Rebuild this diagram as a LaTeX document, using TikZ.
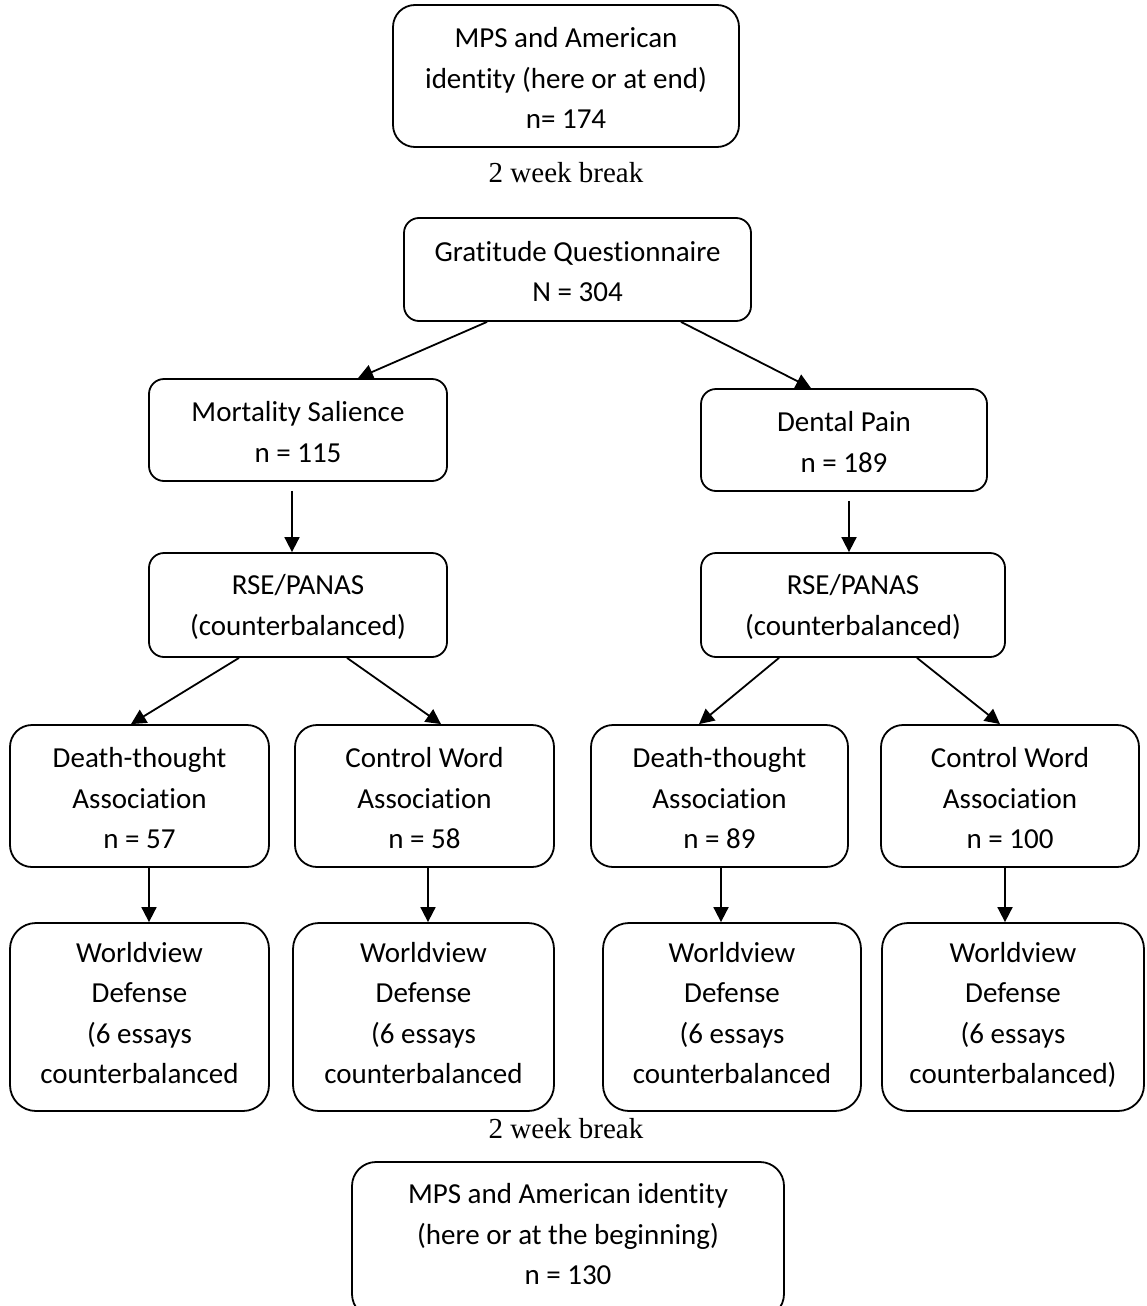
\documentclass[tikz,border=0pt]{standalone}
\usepackage{fontspec}
\setmainfont{Carlito}[Ligatures={NoCommon}]
\newfontfamily\tms{Liberation Serif}
\usetikzlibrary{arrows.meta,calc}
\newcommand\tp{\rule{0pt}{24.5pt}}
\begin{document}
\begin{tikzpicture}[x=1pt,y=-1pt,
  box/.style={draw, line width=1.8pt, rounded corners=#1, align=center, inner sep=0pt,
    font=\fontsize{29}{40.5}\selectfont},
  box/.default=15pt,
  lbl/.style={inner sep=0pt, font=\tms\fontsize{29}{34}\selectfont},
  arr/.style={line width=1.8pt, -{Triangle[length=15pt,width=15pt]}}]
\useasboundingbox (0,0) rectangle (1146,1306);
\clip (0,0) rectangle (1146,1306);
% boxes
\node[box=22pt, minimum width=346pt, minimum height=142pt] (top) at (566,76) {\tp MPS and American\\identity (here or at end)\\n= 174};
\node[lbl] (brk1) at (566,173) {2 week break};
\node[box=15pt, minimum width=347pt, minimum height=103pt] (grat) at (577.5,269.5) {\tp Gratitude Questionnaire\\N = 304};
\node[box=15pt, minimum width=298pt, minimum height=102pt] (mort) at (298,430) {\tp Mortality Salience\\n = 115};
\node[box=15pt, minimum width=286pt, minimum height=102pt] (dent) at (844,440) {\tp Dental Pain\\n = 189};
\node[box=15pt, minimum width=298pt, minimum height=104pt] (rseA) at (298,605) {\tp RSE/PANAS\\(counterbalanced)};
\node[box=15pt, minimum width=304pt, minimum height=104pt] (rseB) at (853,605) {\tp RSE/PANAS\\(counterbalanced)};
\node[box=22pt, minimum width=259pt, minimum height=142pt] (dthA) at (139.5,796) {\tp Death-thought\\Association\\n = 57};
\node[box=22pt, minimum width=259pt, minimum height=142pt] (ctlA) at (424.5,796) {\tp Control Word\\Association\\n = 58};
\node[box=22pt, minimum width=257pt, minimum height=142pt] (dthB) at (719.5,796) {\tp Death-thought\\Association\\n = 89};
\node[box=22pt, minimum width=258pt, minimum height=142pt] (ctlB) at (1010,796) {\tp Control Word\\Association\\n = 100};
\node[box=26pt, minimum width=259pt, minimum height=188pt] (wvA) at (139.5,1017) {\tp Worldview\\Defense\\(6 essays\\counterbalanced\strut};
\node[box=26pt, minimum width=261pt, minimum height=188pt] (wvB) at (423.5,1017) {\tp Worldview\\Defense\\(6 essays\\counterbalanced\strut};
\node[box=26pt, minimum width=258pt, minimum height=188pt] (wvC) at (732,1017) {\tp Worldview\\Defense\\(6 essays\\counterbalanced\strut};
\node[box=26pt, minimum width=262pt, minimum height=188pt] (wvD) at (1013,1017) {\tp Worldview\\Defense\\(6 essays\\counterbalanced)\strut};
\node[lbl] (brk2) at (566,1129) {2 week break};
\node[box=24pt, minimum width=432pt, minimum height=156pt] (fin) at (568,1240) {MPS and American identity\\(here or at the beginning)\\n = 130\rule[-12pt]{0pt}{1pt}};
% connectors
\draw[arr] ([xshift=-90.5pt]grat.south) -- ([xshift=60pt]mort.north);
\draw[arr] ([xshift=103.5pt]grat.south) -- ([xshift=-33pt]dent.north);
\draw[arr] ([xshift=-6pt,yshift=-9pt]mort.south) -- ([xshift=-6pt]rseA.north);
\draw[arr] ([xshift=5pt,yshift=-9pt]dent.south) -- ([xshift=-4pt]rseB.north);
\draw[arr] ([xshift=-59pt]rseA.south) -- ([xshift=-8.5pt]dthA.north);
\draw[arr] ([xshift=49pt]rseA.south) -- ([xshift=16.5pt]ctlA.north);
\draw[arr] ([xshift=-74pt]rseB.south) -- ([xshift=-20.5pt]dthB.north);
\draw[arr] ([xshift=64pt]rseB.south) -- ([xshift=-10pt]ctlB.north);
\draw[arr] ([xshift=9.5pt]dthA.south) -- ([xshift=9.5pt]wvA.north);
\draw[arr] ([xshift=3.5pt]ctlA.south) -- ([xshift=4.5pt]wvB.north);
\draw[arr] ([xshift=1.5pt]dthB.south) -- ([xshift=-11pt]wvC.north);
\draw[arr] ([xshift=-5pt]ctlB.south) -- ([xshift=-8pt]wvD.north);
\end{tikzpicture}
\end{document}
